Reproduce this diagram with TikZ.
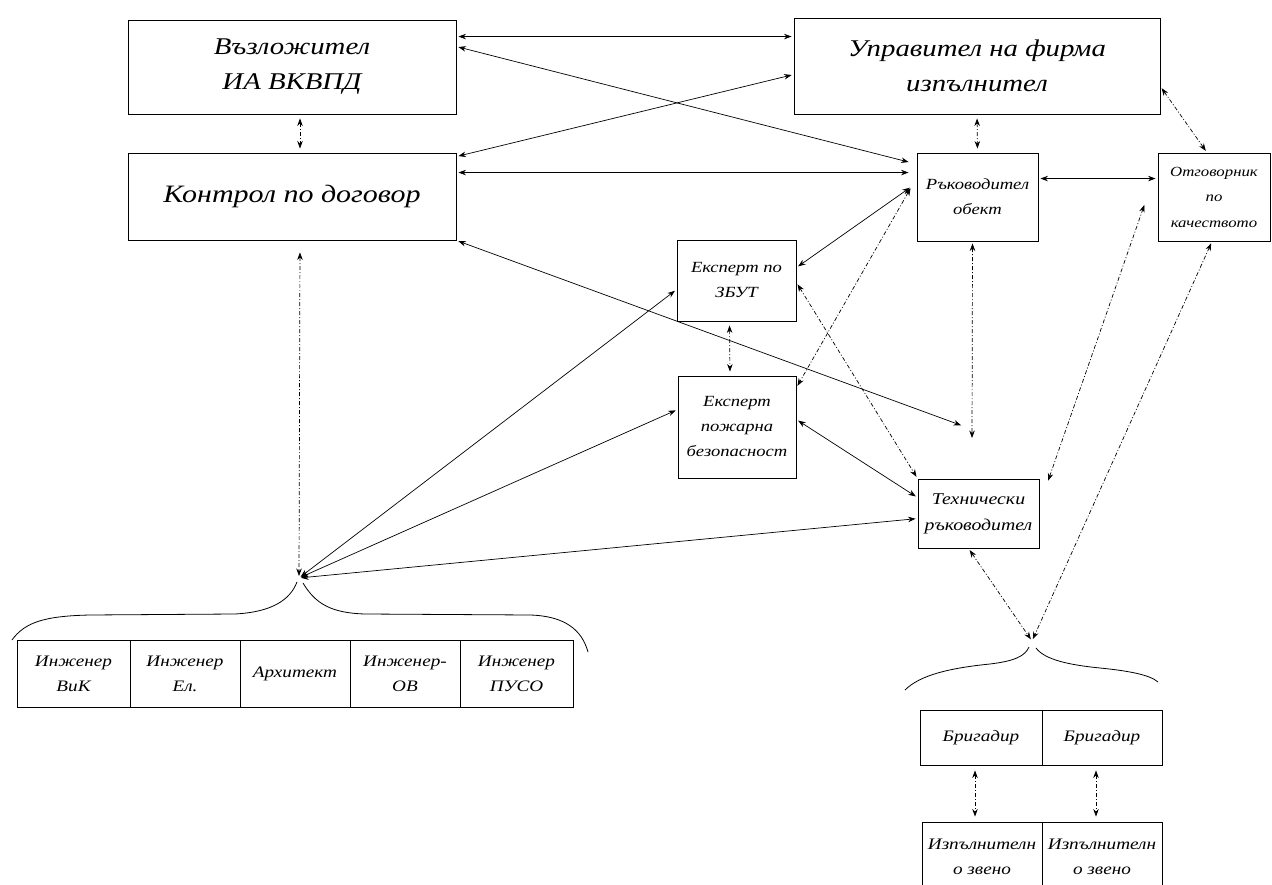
\documentclass[tikz,border=0pt]{standalone}
\usepackage{fontspec}
\setmainfont{Liberation Serif}[FakeStretch=1.2]
\usetikzlibrary{arrows.meta}
\begin{document}
\begin{tikzpicture}[x=1pt,y=-1pt,
  box/.style={draw, line width=0.9pt, inner sep=0pt, align=center},
  fbig/.style={font=\itshape\fontsize{24}{35}\selectfont},
  fsmall/.style={font=\itshape\fontsize{15.5}{25}\selectfont},
  ftab/.style={font=\itshape\fontsize{16}{25}\selectfont},
  dbl/.style={line width=0.7pt, {Stealth[length=7.5pt,width=5.5pt]}-{Stealth[length=7.5pt,width=5.5pt]}, shorten >=2pt, shorten <=2pt},
  dsh/.style={dbl, dash pattern=on 4pt off 2pt on 1pt off 2pt},
  brace/.style={line width=0.8pt}
]
\useasboundingbox (0,0) rectangle (1272,885);

% top boxes
\node[box, fbig, minimum width=328pt, minimum height=94pt] (vaz) at (292,67) {Възложител\\ИА ВКВПД};
\node[box, font=\itshape\fontsize{25}{35}\selectfont, minimum width=328pt, minimum height=87pt] (kon) at (292,196.5) {Контрол по договор};
\node[box, fbig, minimum width=366pt, minimum height=96pt] (upr) at (977,66) {Управител на фирма\\изпълнител};
\node[box, fsmall, minimum width=121pt, minimum height=88pt] (ruk) at (977.5,197) {Ръководител\\обект};
\node[box, font=\itshape\fontsize{14}{25.5}\selectfont, minimum width=112pt, minimum height=88pt] (otg) at (1214,197) {Отговорник\\по\\качеството};
\node[box, fsmall, minimum width=119pt, minimum height=81pt] (zbut) at (736.5,280.5) {Експерт по\\ЗБУТ};
\node[box, fsmall, minimum width=118pt, minimum height=102pt] (poz) at (737,427) {Експерт\\пожарна\\безопасност};
\node[box, font=\itshape\fontsize{16.5}{26}\selectfont, minimum width=121pt, minimum height=69pt] (teh) at (978.5,513.5) {Технически\\ръководител};

% bottom-left table
\node[box, ftab, minimum width=113pt, minimum height=67pt] (c1) at (73.5,674) {Инженер\\ВиК};
\node[box, ftab, minimum width=110pt, minimum height=67pt] (c2) at (185,674) {Инженер\\Ел.};
\node[box, ftab, minimum width=110pt, minimum height=67pt] (c3) at (295,674) {Архитект};
\node[box, ftab, minimum width=110pt, minimum height=67pt] (c4) at (405,674) {Инженер-\\ОВ};
\node[box, ftab, minimum width=113pt, minimum height=67pt] (c5) at (516.5,674) {Инженер\\ПУСО};

% bottom-right tables
\node[box, ftab, minimum width=122pt, minimum height=55pt] (b1) at (981,737.5) {Бригадир};
\node[box, ftab, minimum width=120pt, minimum height=55pt] (b2) at (1102,737.5) {Бригадир};
\node[box, ftab, minimum width=120pt, minimum height=78pt, text depth=8pt] (i1) at (982,861) {Изпълнителн\\о звено};
\node[box, ftab, minimum width=120pt, minimum height=78pt, text depth=8pt] (i2) at (1102,861) {Изпълнителн\\о звено};

% braces
\draw[brace] (12,640) .. controls (25,622) and (45,616) .. (90,615) -- (235,614) .. controls (272,612) and (290,600) .. (297,582);
\draw[brace] (303,583) .. controls (315,603) and (330,613) .. (365,614) -- (530,615) .. controls (565,616) and (582,630) .. (588,652);
\draw[brace] (905,690) .. controls (920,675) and (950,668) .. (990,664) .. controls (1015,661) and (1025,656) .. (1029,647);
\draw[brace] (1036,648) .. controls (1045,660) and (1070,665) .. (1100,668) .. controls (1130,671) and (1150,675) .. (1158,682);

% free ends
\coordinate (bp1) at (299,578);
\coordinate (bp2) at (1032,641);
\coordinate (tk) at (963,426);
\coordinate (rk) at (972,440);
\coordinate (og) at (1145,203);
\coordinate (rw) at ([xshift=-5pt,yshift=-34pt]ruk.north west);

% connectors
\draw[dbl] ([yshift=-17pt]vaz.north east) -- ([yshift=-19pt]upr.north west);
\draw[dbl] ([yshift=-27pt]vaz.north east) -- ([xshift=-6pt,yshift=-10pt]ruk.north west);
\draw[dbl] ([yshift=-57pt]upr.north west) -- ([yshift=-4pt]kon.north east);
\draw[dbl] ([yshift=-20pt]kon.north east) -- ([xshift=-6pt,yshift=-20pt]ruk.north west);
\draw[dbl] (kon.south east) -- (tk);
\draw[dsh, shorten >=4pt, shorten <=4pt] (upr.south) -- (ruk.north);
\draw[dsh, shorten >=4pt, shorten <=4pt] ([xshift=8pt]vaz.south) -- ([xshift=8pt]kon.north);
\draw[dbl] ([yshift=-26pt]ruk.north east) -- ([yshift=-26pt]otg.north west);
\draw[dsh] ([yshift=-69pt]upr.north east) -- ([xshift=-7pt]otg.north);
\draw[dbl] (rw) -- ([yshift=-28pt]zbut.north east);
\draw[dsh] (rw) -- ([yshift=-12pt]poz.north east);
\draw[dsh] ([xshift=-2pt]otg.south) -- (bp2);
\draw[dsh] ([xshift=8pt,yshift=-4pt]teh.north east) -- (og);
\draw[dsh] ([xshift=-10pt]teh.south) -- (bp2);
\draw[dsh] ([xshift=-5pt]ruk.south) -- (rk);
\draw[dsh, shorten >=4pt, shorten <=4pt] ([xshift=-7pt]zbut.south) -- ([xshift=-7pt]poz.north);
\draw[dsh] ([yshift=-43pt]zbut.north east) -- (teh.north west);
\draw[dbl] ([yshift=-44pt]poz.north east) -- ([yshift=-19pt]teh.north west);
\draw[dsh, shorten <=12pt] ([xshift=8pt]kon.south) -- (bp1);
\draw[dbl] (bp1) -- ([yshift=-50pt]zbut.north west);
\draw[dbl] (bp1) -- ([yshift=-34pt]poz.north west);
\draw[dbl] (bp1) -- ([yshift=-40pt]teh.north west);
\draw[dsh, shorten >=5pt, shorten <=5pt] ([xshift=-6pt]b1.south) -- ([xshift=-7pt]i1.north);
\draw[dsh, shorten >=5pt, shorten <=5pt] ([xshift=-6pt]b2.south) -- ([xshift=-6pt]i2.north);
\end{tikzpicture}
\end{document}
